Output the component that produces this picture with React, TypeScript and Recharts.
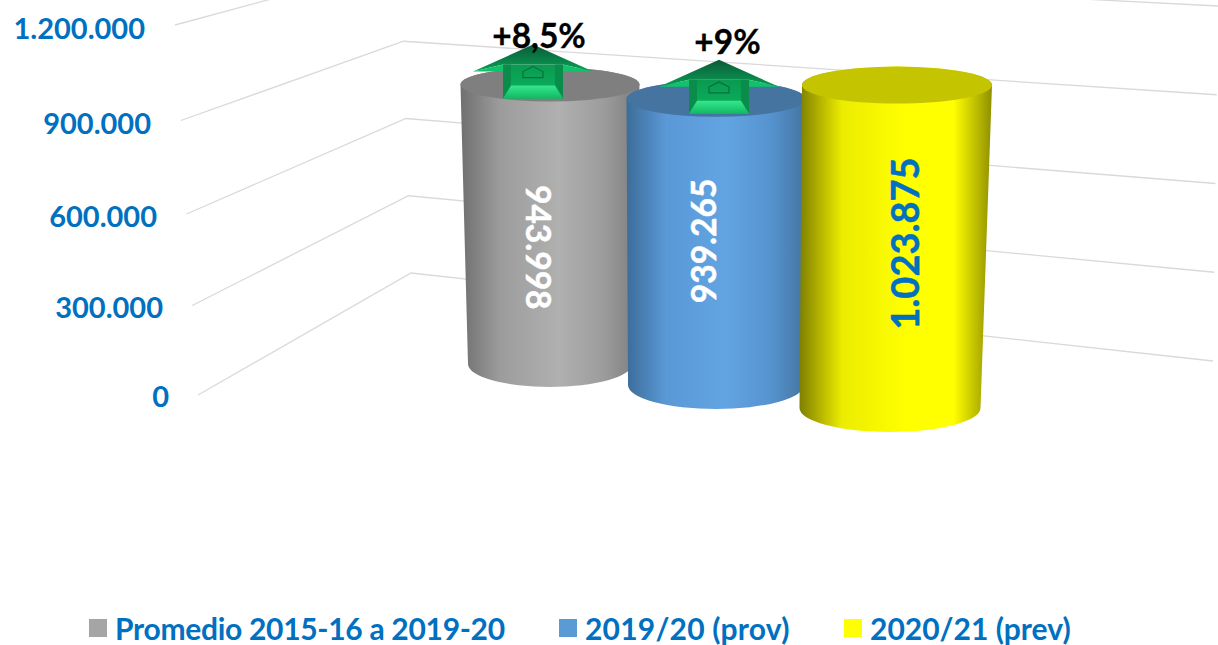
import React from "react";
import { BarChart, Bar, XAxis, YAxis, Legend, CartesianGrid } from "recharts";

const SERIES_NAMES = ["Promedio 2015-16 a 2019-20", "2019/20 (prov)", "2020/21 (prev)"];
const SERIES_VALUES = [943998, 939265, 1023875];
const SERIES_COLORS = ["#A5A5A5", "#5B9BD5", "#FFFF00"];
const CHANGE_LABELS = ["+8,5%", "+9%", ""];
const Y_TICKS = [0, 300000, 600000, 900000, 1200000];
const Y_MAX = 1200000;

const BLUE_TEXT = "#0070C0";
const FONT = "Lato, sans-serif";
const GRID = "#D9D9D9";
const PLOT_TOP = 25;
const PLOT_BOTTOM = 395;

// fake perspective for each cylinder (nearer ones sit lower and look bigger)
const LOOKS = [
  {
    id: "gray", dx: -3, skew: 0, depth: -31, scale: 0.96, topW: 179, botW: 164, topRy: 17, botRy: 23,
    lid: "#7F7F7F", stops: ["#6F6F6F", "#9C9C9C", "#B0B0B0", "#9C9C9C", "#7C7C7C"],
    text: "#FFFFFF", textSize: 33.5, angle: 90, labelDx: -11, labelDy: 23,
    arrowDx: -17, arrowDy: -40, changeDx: -11, changeY: 48,
  },
  {
    id: "blue", dx: -3, skew: 0, depth: -10, scale: 0.988, topW: 179, botW: 176, topRy: 18, botRy: 24,
    lid: "#44749F", stops: ["#3C6D99", "#5A98D6", "#62A4E2", "#5694D0", "#44749F"],
    text: "#FFFFFF", textSize: 33.5, angle: -90, labelDx: -13, labelDy: -1,
    arrowDx: 3, arrowDy: -39, changeDx: 11.5, changeY: 54,
  },
  {
    id: "yellow", dx: 12, skew: -7, depth: 13, scale: 1.023, topW: 190, botW: 181, topRy: 18.5, botRy: 24,
    lid: "#C4C400", stops: ["#7F7F00", "#ECEC00", "#FFFF00", "#FFFF00", "#8F8F00"],
    text: "#0070C0", textSize: 38, angle: -90, labelDx: 7, labelDy: -3,
    arrowDx: 0, arrowDy: 0, changeDx: 0, changeY: 0,
  },
];

const LEGEND_LEFT = [89, 559, 844];
const LEGEND_SPACING = [-0.3, 0.2, 0];

const fmt = (v: number) => v.toLocaleString("de-DE");

function Arrow({ x, y, id }: { x: number; y: number; id: string }) {
  return (
    <g transform={`translate(${x},${y})`}>
      <defs>
        <linearGradient id={`head-${id}`} x1="0" y1="0" x2="0" y2="1">
          <stop offset="0" stopColor="#0B5A38" />
          <stop offset="1" stopColor="#0A9E54" />
        </linearGradient>
        <linearGradient id={`shaft-${id}`} x1="0" y1="0" x2="0" y2="1">
          <stop offset="0" stopColor="#0A9A50" />
          <stop offset="1" stopColor="#0CB460" />
        </linearGradient>
        <linearGradient id={`bevel-${id}`} x1="0" y1="0" x2="0" y2="1">
          <stop offset="0" stopColor="#35E68C" />
          <stop offset="1" stopColor="#10B864" />
        </linearGradient>
      </defs>
      <polygon points="-30,20 30,20 30,54 -30,54" fill={`url(#shaft-${id})`} />
      <polygon points="-30,20 -22,20 -22,41 -30,54" fill="#0A8C4A" />
      <polygon points="30,20 22,20 22,41 30,54" fill="#0A8C4A" />
      <polygon points="-30,54 30,54 22,41 -22,41" fill={`url(#bevel-${id})`} />
      <polygon points="0,0 -60,27 -30,20 30,20 60,27" fill={`url(#head-${id})`} />
      <polygon points="-60,27 -30,20 -30,27" fill="#12C26A" />
      <polygon points="60,27 30,20 30,27" fill="#12C26A" />
      <polygon points="0,22 -10,27 -10,33 10,33 10,27" fill="none" stroke="#08703C" strokeWidth={1.2} />
    </g>
  );
}

function Cylinder(props: any) {
  const { x, y, width, height, index } = props;
  const look = LOOKS[index];
  const cx = x + width / 2 + look.dx;
  const bottom = y + height + look.depth;
  const top = bottom - height * look.scale;
  const topCx = cx;
  const botCx = cx + look.skew;
  const tl = topCx - look.topW / 2;
  const tr = topCx + look.topW / 2;
  const bl = botCx - look.botW / 2;
  const br = botCx + look.botW / 2;
  const side =
    `M${tl},${top} L${bl},${bottom} ` +
    `A${look.botW / 2},${look.botRy} 0 0 0 ${br},${bottom} ` +
    `L${tr},${top} A${look.topW / 2},${look.topRy} 0 0 0 ${tl},${top} Z`;
  const midY = (top + bottom) / 2 + look.labelDy;
  const labelX = topCx + look.labelDx;
  return (
    <g>
      <defs>
        <linearGradient id={`side-${look.id}`} x1="0" y1="0" x2="1" y2="0">
          <stop offset="0" stopColor={look.stops[0]} />
          <stop offset="0.22" stopColor={look.stops[1]} />
          <stop offset="0.55" stopColor={look.stops[2]} />
          <stop offset="0.8" stopColor={look.stops[3]} />
          <stop offset="1" stopColor={look.stops[4]} />
        </linearGradient>
      </defs>
      <path d={side} fill={`url(#side-${look.id})`} />
      <ellipse cx={topCx} cy={top} rx={look.topW / 2} ry={look.topRy} fill={look.lid} />
      <text
        x={labelX}
        y={midY}
        transform={`rotate(${look.angle},${labelX},${midY})`}
        textAnchor="middle"
        dominantBaseline="central"
        fontFamily={FONT}
        fontWeight={700}
        fontSize={look.textSize}
        fill={look.text}
        stroke={look.text}
        strokeWidth={0.5}
      >
        {fmt(SERIES_VALUES[index])}
      </text>
      {CHANGE_LABELS[index] && (
        <g>
          <Arrow x={topCx + look.arrowDx} y={top + look.arrowDy} id={look.id} />
          <text
            x={topCx + look.changeDx}
            y={look.changeY}
            textAnchor="middle"
            fontFamily={FONT}
            fontWeight={700}
            fontSize={33.5}
            fill="#000000"
            stroke="#000000"
            strokeWidth={0.3}
          >
            {CHANGE_LABELS[index]}
          </text>
        </g>
      )}
    </g>
  );
}

// how far up the wall a y position is, 0 at the floor and 1 at the axis max
const wallT = (y: number) => (PLOT_BOTTOM - y) / (PLOT_BOTTOM - PLOT_TOP);
const warp = (t: number) => 16 * t * (1 - t);

// the bent gridline of the 3d floor/wall
function WallLine(props: any) {
  const t = wallT(props.y1);
  const fx = 198 - 23 * t;
  const fy = props.y1 + warp(t);
  const bx = 411 - 10 * t;
  const by = 273 - 309 * t;
  const rx = 1213 + 5 * t;
  const ry = 361 - 355 * t;
  return <polyline points={`${fx},${fy} ${bx},${by} ${rx},${ry}`} fill="none" stroke={GRID} strokeWidth={1.3} />;
}

function WallTick(props: any) {
  const { y, payload } = props;
  const t = payload.value / Y_MAX;
  return (
    <text
      x={169 - 24 * t}
      y={y + warp(t) + 2 * t}
      textAnchor="end"
      dominantBaseline="central"
      fontFamily={FONT}
      fontWeight={700}
      fontSize={29}
      fill={BLUE_TEXT}
    >
      {fmt(payload.value)}
    </text>
  );
}

function LegendRow({ payload }: any) {
  return (
    <div style={{ position: "relative", width: 1218, height: 34 }}>
      {(payload || []).map((item: any, i: number) => (
        <div
          key={item.value}
          style={{ position: "absolute", left: LEGEND_LEFT[i], top: 0, height: 34, display: "flex", alignItems: "center", whiteSpace: "nowrap" }}
        >
          <span style={{ width: 18, height: 18, background: item.color, marginRight: 8, display: "inline-block" }} />
          <span style={{ fontFamily: FONT, fontWeight: 700, fontSize: 30, lineHeight: "34px", letterSpacing: LEGEND_SPACING[i], color: BLUE_TEXT }}>
            {item.value}
          </span>
        </div>
      ))}
    </div>
  );
}

const data = [
  {
    name: "Campaña",
    s0: SERIES_VALUES[0],
    s1: SERIES_VALUES[1],
    s2: SERIES_VALUES[2],
  },
];

export default function App() {
  return (
    <div style={{ position: "absolute", left: 0, top: 0, width: 1218, height: 645, overflow: "hidden", background: "#fff" }}>
      <BarChart
        width={1218}
        height={645}
        data={data}
        margin={{ top: PLOT_TOP, right: 0, bottom: 216, left: 0 }}
        barSize={176}
        barGap={-10}
        barCategoryGap={0}
      >
        <CartesianGrid vertical={false} horizontal={<WallLine />} />
        <XAxis dataKey="name" hide />
        <YAxis
          domain={[0, Y_MAX]}
          ticks={Y_TICKS}
          interval={0}
          width={220}
          axisLine={false}
          tickLine={false}
          tick={<WallTick />}
        />
        {SERIES_NAMES.map((name, i) => (
          <Bar
            key={name}
            dataKey={`s${i}`}
            name={name}
            fill={SERIES_COLORS[i]}
            isAnimationActive={false}
            shape={(p: any) => <Cylinder {...p} index={i} />}
          />
        ))}
        <Legend
          content={<LegendRow />}
          itemSorter={null}
          wrapperStyle={{ left: 0, top: 611, width: 1218, height: 34 }}
        />
      </BarChart>
    </div>
  );
}
